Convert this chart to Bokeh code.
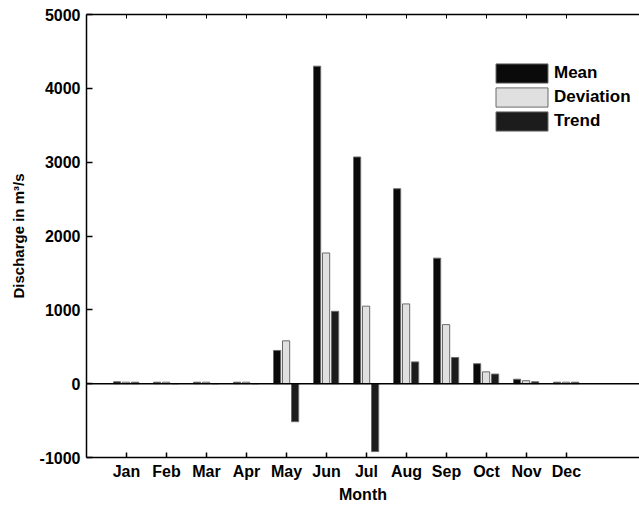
from bokeh.plotting import figure
from bokeh.models import (Range1d, FixedTicker, LinearAxis, Span, Legend, LegendItem,
                          ColumnDataSource)
from bokeh.transform import dodge
from bokeh.embed import file_html
from bokeh.resources import INLINE

months = ["Jan", "Feb", "Mar", "Apr", "May", "Jun", "Jul", "Aug", "Sep", "Oct", "Nov", "Dec"]
month_pos = [1, 2, 3, 4, 5, 6, 7, 8, 9, 10, 11, 12]
mean_vals = [25, 20, 20, 20, 450, 4300, 3070, 2640, 1700, 270, 60, 20]
dev_vals = [20, 20, 20, 20, 580, 1770, 1050, 1080, 800, 160, 40, 20]
trend_vals = [20, 0, 0, 0, -515, 980, -920, 295, 355, 130, 25, 20]
y_ticks = [-1000, 0, 1000, 2000, 3000, 4000, 5000]
y_tick_labels = ["-1000", "0", "1000", "2000", "3000", "4000", "5000"]

FONT = "Liberation Sans"

src = ColumnDataSource(dict(x=month_pos, mean=mean_vals, dev=dev_vals, trend=trend_vals))

p = figure(width=639, height=505, x_range=Range1d(0, 13.825), y_range=Range1d(-1000, 5000),
           output_backend="svg", toolbar_location=None,
           min_border_left=86, min_border_right=0, min_border_top=14, min_border_bottom=48)
p.outline_line_color = None
p.xgrid.visible = False
p.ygrid.visible = False
p.background_fill_color = "white"
p.border_fill_color = "white"

w = 0.18
r_mean = p.vbar(x=dodge("x", -0.235), top="mean", bottom=0, width=w, source=src,
                fill_color="#0a0a0a", line_color="#6a6a6a", line_width=1)
r_dev = p.vbar(x=dodge("x", -0.01), top="dev", bottom=0, width=w, source=src,
               fill_color="#e0e0e0", line_color="#6a6a6a", line_width=1)
r_trend = p.vbar(x=dodge("x", 0.215), top="trend", bottom=0, width=w, source=src,
                 fill_color="#1c1c1c", line_color="#6a6a6a", line_width=1)

p.add_layout(Span(location=0, dimension="width", line_color="black", line_width=1.5))

# bottom axis
xa = p.xaxis[0]
xa.ticker = FixedTicker(ticks=month_pos)
xa.major_label_overrides = {m: n for m, n in zip(month_pos, months)}
xa.major_tick_in = 5
xa.major_tick_out = 0
xa.minor_tick_line_color = None
xa.major_label_standoff = 5
xa.axis_label = "Month"
xa.axis_label_standoff = 3
xa.major_label_text_font = FONT
xa.major_label_text_font_style = "bold"
xa.major_label_text_font_size = "16px"
xa.major_label_text_color = "black"
xa.axis_label_text_font = FONT
xa.axis_label_text_font_style = "bold"
xa.axis_label_text_font_size = "16px"
xa.axis_label_text_color = "black"
xa.axis_line_width = 1.5
xa.major_tick_line_width = 1.5

# left axis
ya = p.yaxis[0]
ya.ticker = FixedTicker(ticks=y_ticks)
ya.major_label_overrides = {t: s for t, s in zip(y_ticks, y_tick_labels)}
ya.major_tick_in = 6
ya.major_tick_out = 0
ya.minor_tick_line_color = None
ya.major_label_standoff = 6
ya.axis_label = "Discharge in m³/s"
ya.axis_label_standoff = 10
ya.major_label_text_font = FONT
ya.major_label_text_font_style = "bold"
ya.major_label_text_font_size = "16px"
ya.major_label_text_color = "black"
ya.axis_label_text_font = FONT
ya.axis_label_text_font_style = "bold"
ya.axis_label_text_font_size = "15px"
ya.axis_label_text_color = "black"
ya.axis_line_width = 1.5
ya.major_tick_line_width = 1.5

# top axis (ticks only)
ta = LinearAxis(ticker=FixedTicker(ticks=month_pos), major_tick_in=4, major_tick_out=0,
                minor_tick_line_color=None,
                major_label_overrides={m: "" for m in month_pos},
                major_label_standoff=0, axis_line_width=1.5, major_tick_line_width=1)
p.add_layout(ta, "above")

legend = Legend(items=[LegendItem(label="Mean", renderers=[r_mean]),
                       LegendItem(label="Deviation", renderers=[r_dev]),
                       LegendItem(label="Trend", renderers=[r_trend])],
                location=(403, 324), glyph_width=65, glyph_height=24, label_height=24,
                spacing=0, padding=0, margin=0, label_standoff=0,
                border_line_color=None, background_fill_alpha=0,
                label_text_font=FONT, label_text_font_style="bold",
                label_text_font_size="17px", label_text_color="black")
p.add_layout(legend)

open("out.html", "w").write(file_html(p, INLINE))
